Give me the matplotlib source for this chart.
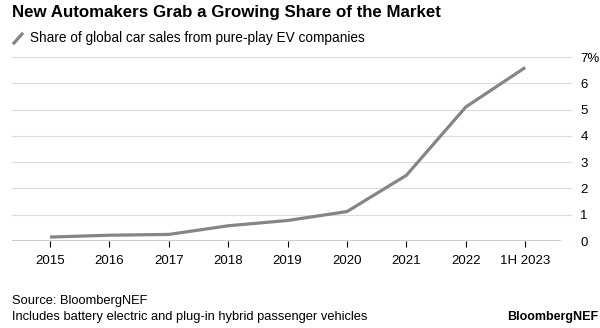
import matplotlib.pyplot as plt
from matplotlib.lines import Line2D
import numpy as np

plt.rcParams['font.family'] = ['Liberation Sans', 'DejaVu Sans']

periods = ['2015', '2016', '2017', '2018', '2019', '2020', '2021', '2022', '1H 2023']
share = [0.15, 0.22, 0.25, 0.58, 0.78, 1.12, 2.5, 5.1, 6.6]

fig = plt.figure(figsize=(6, 3.28), dpi=100)
ax = fig.add_axes([12/600, 1 - 241/328, (572 - 12)/600, (241 - 57)/328])

x = np.arange(len(periods))
ax.plot(x, share, color='#858585', lw=2.3, solid_capstyle='butt', zorder=3)

left = -0.64
right = left + (572 - 12) / 59.4
ax.set_xlim(left, right)
ax.set_ylim(0, 7)

for v in range(1, 8):
    ax.axhline(v, color='#dcdcdc', lw=0.8, zorder=1)
ax.axhline(0, xmin=0, xmax=(560 - 12) / (572 - 12), color='black', lw=1.0, zorder=4)
ax.axhline(0, xmin=(565 - 12) / (572 - 12), xmax=1, color='#dcdcdc', lw=0.8, zorder=1)

for s in ax.spines.values():
    s.set_visible(False)

ax.set_xticks(x)
ax.set_xticklabels(periods, fontsize=9.5)
ax.tick_params(axis='x', length=4, width=0.8, color='black', pad=6)

ax.yaxis.tick_right()
ax.set_yticks(range(8))
ax.set_yticklabels(['0', '1', '2', '3', '4', '5', '6', '7%'], fontsize=9.5)
ax.tick_params(axis='y', length=0, pad=6)

fig.text(12/600, 1 - 13/328, 'New Automakers Grab a Growing Share of the Market',
         fontsize=12.2, fontweight='bold', va='center', ha='left')
fig.add_artist(Line2D([14/600, 22/600], [1 - 43/328, 1 - 34/328], color='#858585', lw=2.3))
fig.text(30/600, 1 - 38/328, 'Share of global car sales from pure-play EV companies',
         fontsize=9.8, va='center', ha='left')

fig.text(12/600, 1 - 301/328, 'Source: BloombergNEF', fontsize=9.3, va='center', ha='left')
fig.text(12/600, 1 - 317/328, 'Includes battery electric and plug-in hybrid passenger vehicles',
         fontsize=9.3, va='center', ha='left')
fig.text(598/600, 1 - 317/328, 'BloombergNEF', fontsize=9, fontweight='bold', va='center', ha='right')

fig.savefig('out.png', dpi=100)
